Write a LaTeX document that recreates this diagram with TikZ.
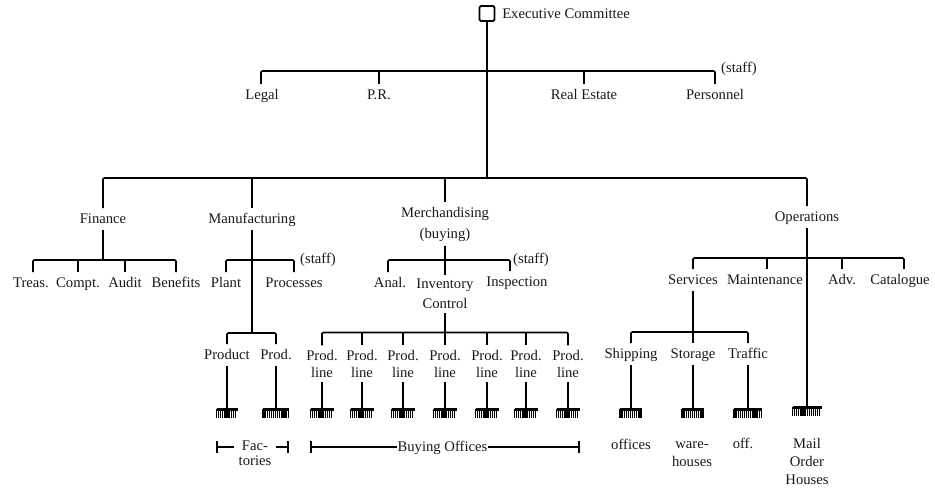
\documentclass[tikz,border=0pt]{standalone}
\usepackage{fontspec}
\setmainfont{Liberation Serif}
\newcommand{\labfont}{\fontsize{11}{12}\selectfont}
\tikzset{
  lab/.style={inner xsep=0pt,inner ysep=3.2pt,text height=8.2pt,text depth=1.2pt,font=\labfont,text=black!90},
  mlab/.style={inner xsep=0pt,inner ysep=3.2pt,align=center,font=\labfont,text=black!90},
  plain/.style={inner sep=0pt,font=\labfont,text=black!90},
  plainm/.style={inner sep=0pt,align=center,font=\labfont,text=black!90},
  busline/.style={line width=1.2pt,rounded corners=1pt},
  tick/.style={line width=1.2pt},
  stem/.style={line width=1.2pt},
  trunk/.style={line width=1.5pt},
  endbar/.style={line width=.8pt},
}
% \rakeat{name}{x}{y}{half width}
\newcommand{\rakeat}[4]{%
  \coordinate (#1) at (#2,#3);
  \draw[line width=1.7pt] (#2-#4,#3+1.5) -- (#2+#4,#3+1.5);
  \pgfmathsetmacro{\rksec}{-#4+2.1}%
  \foreach \tt in {-#4,\rksec,...,#4}{\draw[line width=1pt] (#2+\tt,#3+1) -- (#2+\tt,#3+10);}%
}
\begin{document}
\begin{tikzpicture}[x=.75pt,y=-.75pt]
\useasboundingbox (0,0) rectangle (935,488);
% top
\node[draw,line width=1.3pt,rounded corners=1pt,minimum size=11.2pt,inner sep=0pt] (exec) at (487,13.5) {};
\node[plain,anchor=west] (execl) at (502,13.5) {Executive Committee};
\coordinate (busone) at (487,71);
\coordinate (bustwo) at (487,178);
\draw[trunk] (exec.south) -- (bustwo);
% staff row
\node[lab] (legal) at (262,95) {Legal};
\node[lab] (pr) at (379,95) {P.R.};
\node[lab] (real) at (584,95) {Real Estate};
\node[lab] (pers) at (715,95) {Personnel};
\node[plain] (staffa) at (739,69) {(staff)};
\draw[busline] ([xshift=-.75pt]legal.north) |- (busone) -| (pers.north);
\draw[tick] (pr.north |- busone) -- (pr.north);
\draw[tick] (real.north |- busone) -- (real.north);
% divisions
\node[lab] (fin) at (103,219) {Finance};
\node[lab] (mfg) at (252,219) {Manufacturing};
\node[mlab] (mer) at (445,224) {Merchandising\\[3.75pt](buying)};
\node[lab] (ops) at (807,217) {Operations};
\draw[busline] (fin.north) |- (bustwo) -| (ops.north);
\draw[stem] (mfg.north |- bustwo) -- (mfg.north);
\draw[stem] (mer.north |- bustwo) -- (mer.north);
% finance
\node[lab] (treas) at (31,283) {Treas.};
\node[lab] (compt) at (78,283) {Compt.};
\node[lab] (audit) at (125,283) {Audit};
\node[lab] (ben) at (176,283) {Benefits};
\coordinate (busf) at (103,260);
\draw[stem] (fin.south) -- (busf);
\draw[busline] ([xshift=1.5pt]treas.north) |- (busf) -| (ben.north);
\draw[tick] (compt.north |- busf) -- (compt.north);
\draw[tick] (audit.north |- busf) -- (audit.north);
% manufacturing
\node[lab] (plant) at (226,283) {Plant};
\node[lab] (proc) at (294,283) {Processes};
\node[plain] (staffb) at (318,260) {(staff)};
\coordinate (busm) at (252,260);
\coordinate (buspr) at (252,333);
\draw[busline] (plant.north) |- (busm) -| (proc.north);
\draw[stem] (mfg.south) -- (buspr);
\node[lab] (product) at (227,355) {Product};
\node[lab] (prod) at (276,355) {Prod.};
\draw[busline] (product.north) |- (buspr) -| (prod.north);
\rakeat{ra}{227}{408}{10.5}
\rakeat{rb}{276}{408}{13}
\draw[stem] (product.south) -- (ra);
\draw[stem] (prod.south) -- (rb);
% merchandising
\node[lab] (anal) at (390,283) {Anal.};
\node[mlab] (inv) at (445,294) {Inventory\\[3pt]Control};
\node[lab] (insp) at (517,282) {Inspection};
\node[plain] (staffc) at (531,260) {(staff)};
\coordinate (buss) at (445,260);
\draw[stem] (mer.south) -- (buss);
\draw[busline] ([xshift=-1.5pt]anal.north) |- (buss) -| ([xshift=-5.25pt]insp.north);
\draw[tick] (buss) -- (inv.north);
\coordinate (busl) at (445,332.5);
\draw[stem] (inv.south) -- (busl);
\foreach \n/\x in {a/322,b/362,c/403,d/445,e/487,f/526,g/568}{
  \node[mlab] (l\n) at (\x,363.5) {Prod.\\[.75pt]line};
  \rakeat{r\n l}{\x}{408}{11.5}
  \draw[stem] (l\n.south) -- (r\n l);
}
\draw[busline] (la.north) |- (busl) -| (lg.north);
\foreach \n in {b,c,e,f}{\draw[tick] (l\n.north |- busl) -- (l\n.north);}
\draw[tick] (busl) -- (ld.north);
% operations
\node[lab] (serv) at (693,280) {Services};
\node[lab] (maint) at (765,280) {Maintenance};
\node[lab] (adv) at (842,280) {Adv.};
\node[lab] (cat) at (900,280) {Catalogue};
\coordinate (buso) at (807,258);
\draw[busline] (serv.north) |- (buso) -| ([xshift=3pt]cat.north);
\draw[tick] ([xshift=1.5pt]maint.north |- buso) -- ([xshift=1.5pt]maint.north);
\draw[tick] (adv.north |- buso) -- (adv.north);
\rakeat{rops}{807}{406}{14.5}
\draw[trunk] (ops.south) -- (rops);
\node[lab] (ship) at (631,354) {Shipping};
\node[lab] (stor) at (693,354) {Storage};
\node[lab] (traf) at (748,354) {Traffic};
\coordinate (buss2) at (693,332);
\draw[stem] (serv.south) -- (buss2);
\draw[busline] (ship.north) |- (buss2) -| (traf.north);
\draw[tick] (buss2) -- (stor.north);
\rakeat{rsh}{631}{408}{11}
\rakeat{rst}{693}{408}{11}
\rakeat{rtr}{748}{408}{14}
\draw[stem] (ship.south) -- (rsh);
\draw[stem] (stor.south) -- (rst);
\draw[stem] (traf.south) -- (rtr);
% bottom labels
\node[plainm,anchor=north] (fac) at (255,441) {Fac-\\[-1.1pt]tories};
\coordinate (fl) at (217,447);
\coordinate (fr) at (288,447);
\draw[endbar] (fl) -- ([xshift=-3pt]fac.north west |- fl);
\draw[endbar] ([xshift=3pt]fac.north east |- fr) -- (fr);
\draw[endbar] (217,441) -- (217,453);
\draw[endbar] (288,441) -- (288,453);
\node[plain] (buy) at (442.5,448) {Buying Offices};
\coordinate (bl) at (311,447);
\coordinate (br) at (579,447);
\draw[endbar] (bl) -- (buy.west |- bl);
\draw[endbar] (buy.east |- br) -- (br);
\draw[endbar] (311,441) -- (311,453);
\draw[endbar] (579,441) -- (579,453);
\node[plain] (off) at (631,444) {offices};
\node[plainm] (ware) at (692,454.5) {ware-\\[1.5pt]houses};
\node[plain] (offb) at (743,443) {off.};
\node[plainm] (mail) at (807,461) {Mail\\[1.5pt]Order\\[1.5pt]Houses};
\end{tikzpicture}
\end{document}
